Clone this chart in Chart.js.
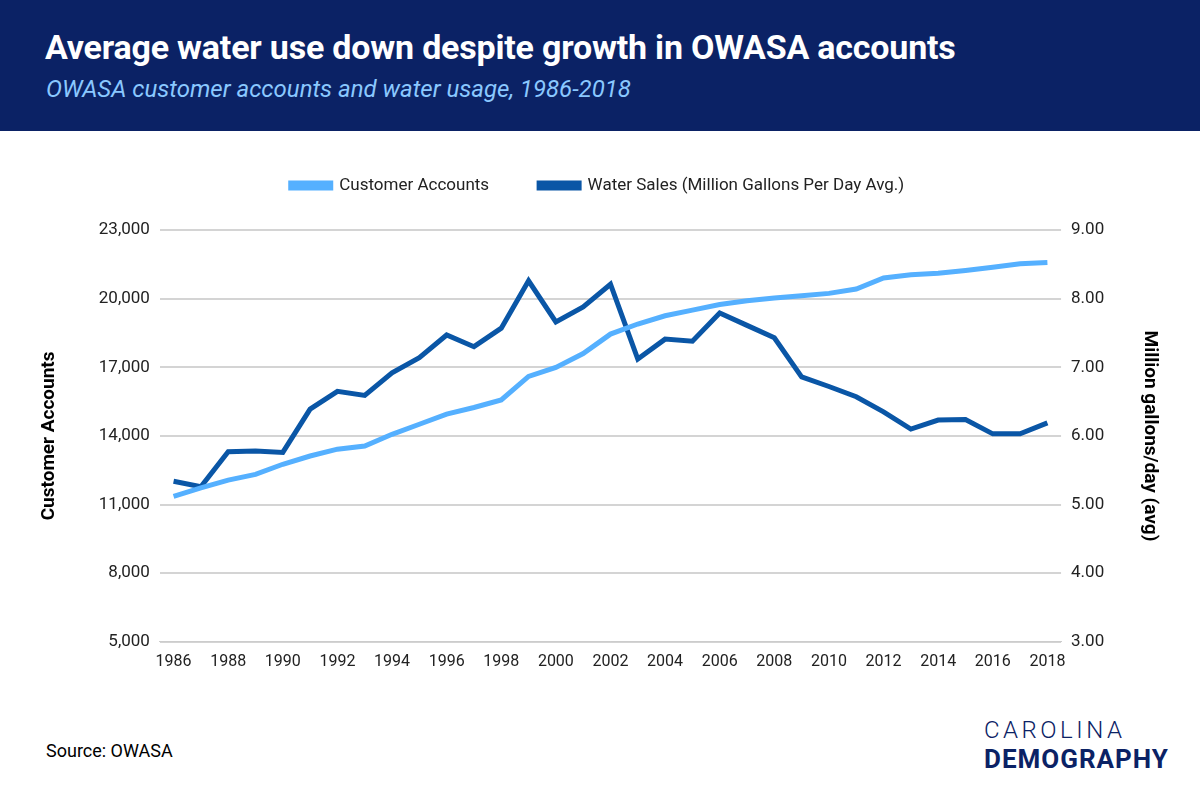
<!DOCTYPE html>
<html>
<head>
<meta charset="utf-8">
<script src="https://cdn.jsdelivr.net/npm/chart.js@4"></script>
<style>
  body { margin: 0; width: 1200px; height: 798px; background: #fff; font-family: Roboto, sans-serif; position: relative; overflow: hidden; }
  .header { position: absolute; left: 0; top: 0; width: 1200px; height: 131px; background: #0b2265; }
  .header h1 { position: absolute; left: 45px; top: 27px; margin: 0; color: #fff; font-size: 34px; font-weight: 700; letter-spacing: -0.2px; }
  .header p { position: absolute; left: 46px; top: 75px; margin: 0; color: #8ac8ff; font-size: 24px; font-style: italic; }
  .chart-box { position: absolute; left: 0; top: 127px; width: 1200px; height: 548px; }
  .source { position: absolute; left: 46px; top: 740px; font-size: 18px; color: #000; }
  .logo1 { position: absolute; left: 984px; top: 716px; font-size: 24px; letter-spacing: 3.5px; color: #0b2265; font-weight: 300; }
  .logo2 { position: absolute; left: 984px; top: 744px; font-size: 26px; letter-spacing: 1px; color: #0b2265; font-weight: 700; }
</style>
</head>
<body>
<div class="header">
  <h1>Average water use down despite growth in OWASA accounts</h1>
  <p>OWASA customer accounts and water usage, 1986-2018</p>
</div>
<div class="chart-box"><canvas id="grafico"></canvas></div>
<div class="source">Source: OWASA</div>
<div class="logo1">CAROLINA</div>
<div class="logo2">DEMOGRAPHY</div>
<script>
const years = [];
for (let y = 1986; y <= 2018; y++) years.push(String(y));

const customerAccounts = [11360, 11730, 12070, 12320, 12760, 13120, 13420, 13560, 14070, 14510,
  14950, 15240, 15570, 16600, 16990, 17600, 18450, 18890, 19250, 19500,
  19740, 19910, 20030, 20130, 20230, 20420, 20900, 21040, 21110, 21230,
  21370, 21520, 21580];

const waterSales = [5.34, 5.26, 5.77, 5.78, 5.76, 6.39, 6.65, 6.59, 6.92, 7.14,
  7.47, 7.30, 7.57, 8.26, 7.66, 7.88, 8.21, 7.12, 7.41, 7.38,
  7.79, 7.61, 7.43, 6.86, 6.72, 6.57, 6.35, 6.10, 6.23, 6.24,
  6.03, 6.03, 6.19];

const tickFont = { family: 'Roboto', size: 17 };

// fixed legend height so the plot starts where the reference does
const legendHeight = {
    id: 'legendHeight',
    beforeInit(chart) {
        const fit = chart.legend.fit;
        chart.legend.fit = function() {
            fit.bind(chart.legend)();
            this.height = 103;
        };
    }
};

const ctx = document.getElementById('grafico').getContext('2d');
new Chart(ctx, {
    type: 'line',
    data: {
        labels: years,
        datasets: [{
            label: 'Customer Accounts',
            data: customerAccounts,
            borderColor: '#55b0ff',
            backgroundColor: '#55b0ff',
            borderWidth: 5,
            pointRadius: 0,
            yAxisID: 'y'
        }, {
            label: 'Water Sales (Million Gallons Per Day Avg.)',
            data: waterSales,
            borderColor: '#0a56a6',
            backgroundColor: '#0a56a6',
            borderWidth: 5,
            pointRadius: 0,
            yAxisID: 'y1'
        }]
    },
    options: {
        responsive: true,
        maintainAspectRatio: false,
        animation: false,
        layout: { padding: { left: 10, right: 15, top: 0, bottom: 0 } },
        plugins: {
            legend: {
                display: true,
                labels: { font: tickFont, color: '#222', boxWidth: 40, boxHeight: 5, padding: 50 }
            },
            tooltip: { enabled: false }
        },
        scales: {
            x: {
                offset: true,
                grid: { display: false },
                border: { color: '#ccc' },
                ticks: { font: { family: 'Roboto', size: 16 }, color: '#222', maxRotation: 0, autoSkip: false,
                    callback: function(v, i) { return i % 2 === 0 ? this.getLabelForValue(v) : ''; } }
            },
            y: {
                position: 'left',
                min: 5000, max: 23000,
                ticks: { stepSize: 3000, font: tickFont, color: '#222', padding: 10 },
                grid: { color: '#d4d4d4', lineWidth: 2, drawTicks: false },
                border: { display: false },
                title: { display: true, text: 'Customer Accounts', padding: 28, font: { family: 'Roboto', size: 19, weight: 'bold' }, color: '#000' }
            },
            y1: {
                position: 'right',
                min: 3, max: 9,
                ticks: { stepSize: 1, font: tickFont, color: '#222', padding: 10, callback: v => v.toFixed(2) },
                grid: { display: false, drawTicks: false },
                border: { display: false },
                title: { display: true, text: 'Million gallons/day (avg)', padding: 24, font: { family: 'Roboto', size: 19, weight: 'bold' }, color: '#000' }
            }
        }
    },
    plugins: [legendHeight]
});
</script>
</body>
</html>
